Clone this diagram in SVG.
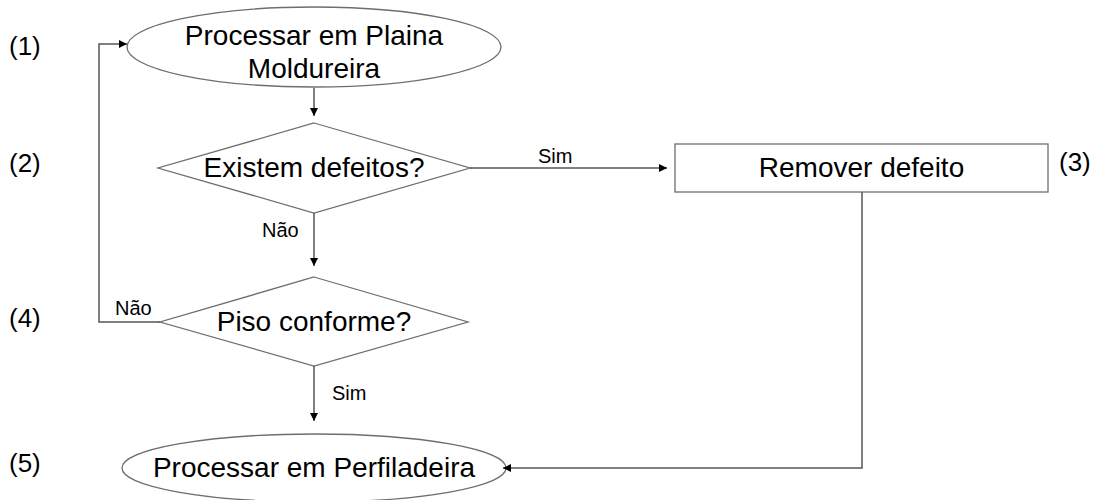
<svg xmlns="http://www.w3.org/2000/svg" width="1095" height="500" viewBox="0 0 1095 500">
<style>
.shape{fill:#fff;stroke:#6e6e6e;stroke-width:1.3}
.main{font-family:"Liberation Sans",Arial,sans-serif;font-size:28px;fill:#000;text-anchor:middle}
.lab{font-family:"Liberation Sans",Arial,sans-serif;font-size:20px;fill:#000}
.num{font-family:"Liberation Sans",Arial,sans-serif;font-size:26px;fill:#000}
.conn{fill:none;stroke:#555;stroke-width:1.5}
</style>
<defs>
<marker id="arr" viewBox="0 0 10 10" refX="10" refY="5" markerWidth="9" markerHeight="8" markerUnits="userSpaceOnUse" orient="auto">
<path d="M0,0 L10,5 L0,10 z" fill="#000"/>
</marker>
</defs>
<rect width="1095" height="500" fill="#fff"/>
<g id="n1">
<ellipse class="shape" cx="314" cy="47" rx="187" ry="40"/>
<text class="main" x="314" y="45">Processar em Plaina</text>
<text class="main" x="314" y="78">Moldureira</text>
</g>
<g id="n2">
<polygon class="shape" points="314,123 470,168 314,213 158,168"/>
<text class="main" x="314" y="177">Existem defeitos?</text>
</g>
<g id="n3">
<rect class="shape" x="675" y="144" width="373" height="48"/>
<text class="main" x="861.5" y="177">Remover defeito</text>
</g>
<g id="n4">
<polygon class="shape" points="314,277 468,322 314,366 160,322"/>
<text class="main" x="314" y="331">Piso conforme?</text>
</g>
<g id="n5">
<ellipse class="shape" cx="314" cy="468" rx="192" ry="34"/>
<text class="main" x="314" y="477">Processar em Perfiladeira</text>
</g>
<g id="connectors">
<path class="conn" d="M314,88 L314,116" marker-end="url(#arr)"/>
<path class="conn" d="M314,213 L314,266" marker-end="url(#arr)"/>
<path class="conn" d="M470,168 L667,168" marker-end="url(#arr)"/>
<path class="conn" d="M314,366 L314,421" marker-end="url(#arr)"/>
<path class="conn" d="M160,322 L99,322 L99,44 L127,44" marker-end="url(#arr)"/>
<path class="conn" d="M862,192 L862,468 L503,468" marker-end="url(#arr)"/>
<text class="lab" x="538" y="163">Sim</text>
<text class="lab" x="262" y="237">Não</text>
<text class="lab" x="115" y="315">Não</text>
<text class="lab" x="332" y="400">Sim</text>
</g>
<g id="labels">
<text class="num" x="9" y="55">(1)</text>
<text class="num" x="9" y="172">(2)</text>
<text class="num" x="1059" y="171">(3)</text>
<text class="num" x="9" y="327">(4)</text>
<text class="num" x="9" y="472">(5)</text>
</g>
</svg>
